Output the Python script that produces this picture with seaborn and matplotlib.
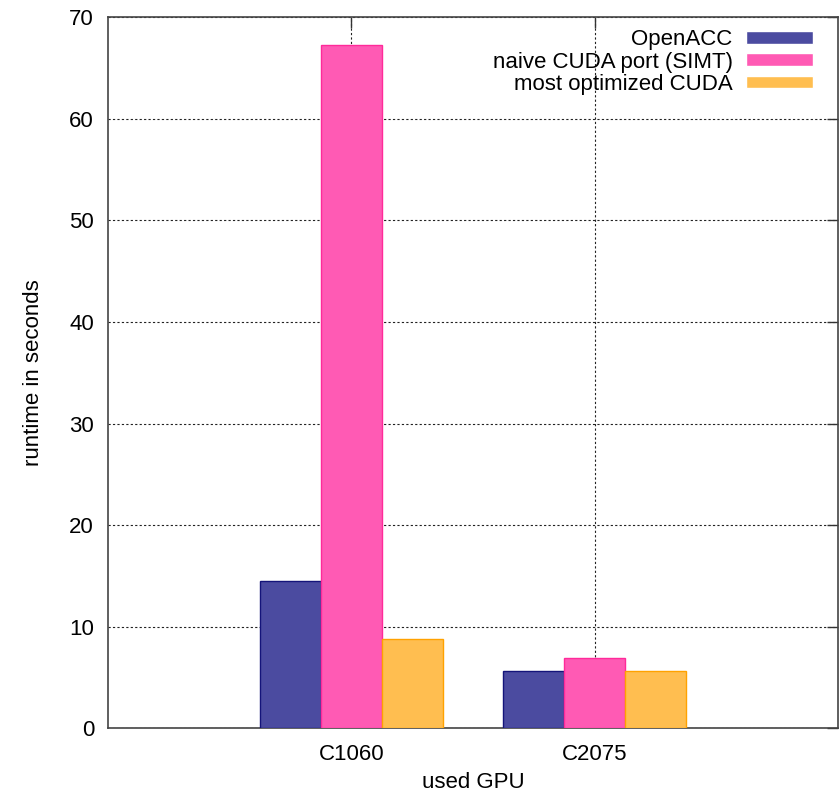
import matplotlib
matplotlib.use("Agg")
import matplotlib.pyplot as plt
import seaborn as sns
import pandas as pd

gpus = ["C1060", "C2075"]
series = ["OpenACC", "naive CUDA port (SIMT)", "most optimized CUDA"]
openacc = [14.5, 5.7]
naive_cuda = [67.2, 6.9]
optimized_cuda = [8.85, 5.7]

fills = ["#4b4ba0", "#ff5ab4", "#ffbe50"]
edges = ["#14147a", "#ff2a9a", "#ffa200"]

rows = []
for name, vals in zip(series, [openacc, naive_cuda, optimized_cuda]):
    for g, v in zip(gpus, vals):
        rows.append({"gpu": g, "series": name, "runtime": v})
df = pd.DataFrame(rows)

sns.set_theme(style="white")
plt.rcParams["font.family"] = ["Liberation Sans", "DejaVu Sans"]
plt.rcParams["text.color"] = "black"
plt.rcParams["axes.labelcolor"] = "black"

fig = plt.figure(figsize=(8.39, 7.96), dpi=100)
ax = fig.add_axes([0.1287, 0.0848, 0.8701, 0.8938])

sns.barplot(data=df, x="gpu", y="runtime", hue="series", hue_order=series,
            order=gpus, palette=fills, width=0.75, saturation=1, ax=ax,
            legend=True, zorder=3)

for cont, ec in zip(ax.containers, edges):
    for p in cont.patches:
        p.set_edgecolor(ec)
        p.set_linewidth(1.0)

ax.set_ylim(0, 70)
ax.set_xlim(-1.0, 2.0)
ax.set_yticks(range(0, 71, 10))

ax.grid(True, axis="both", linestyle=(0, (2, 2)), color="#222222", linewidth=0.8, zorder=0)
ax.set_axisbelow(True)

for s in ax.spines.values():
    s.set_color("#444444")
    s.set_linewidth(1.2)

ax.tick_params(axis="both", direction="in", length=8, width=1, color="#333333",
               labelsize=16, top=True, right=True, labelcolor="black")
ax.tick_params(axis="y", pad=10)
ax.tick_params(axis="x", pad=11)

ax.set_xlabel("used GPU", fontsize=16, labelpad=5, color="black")
ax.set_ylabel("runtime in seconds", fontsize=16, labelpad=18, color="black")

handles, labels = ax.get_legend_handles_labels()
leg = ax.legend(handles, labels, loc="upper right", frameon=False, markerfirst=False,
                fontsize=16, handlelength=3.0, handleheight=0.5, labelspacing=0.06,
                handletextpad=0.6, borderaxespad=0.15, bbox_to_anchor=(0.982, 1.0))
for t in leg.get_texts():
    t.set_ha("right")
    t.set_color("black")
leg._legend_box.align = "right"

fig.savefig("out.png", dpi=100)
